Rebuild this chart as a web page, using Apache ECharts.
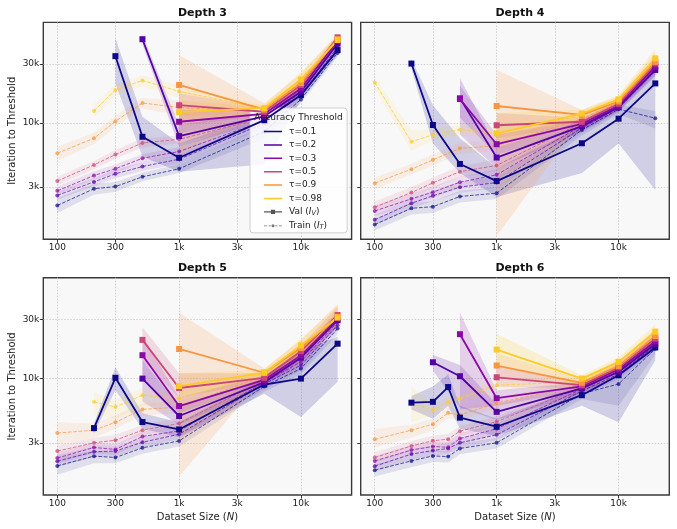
<!DOCTYPE html>
<html><head><meta charset="utf-8">
<script src="https://cdn.jsdelivr.net/npm/echarts@6/dist/echarts.min.js"></script>
<style>html,body{margin:0;padding:0;background:#fff}#c{width:677px;height:529px}</style>
</head><body><div id="c"></div>
<script>
// ---------------- data ----------------
const tauLabels = ['τ=0.1','τ=0.2','τ=0.3','τ=0.5','τ=0.9','τ=0.98'];
const tauColors = ['#0d0887','#5302a3','#8b0aa5','#cc4778','#f89540','#fdca26'];
const depthTitles = ['Depth 3','Depth 4','Depth 5','Depth 6'];
const xTicks = [100,300,1000,3000,10000];
const xTickLabels = ['100','300','1k','3k','10k'];
const yTicks = [3000,10000,30000];
const yTickLabels = ['3k','10k','30k'];

// Depth 3
const N3 = [100,200,300,500,1000,5000,10000,20000];
const val3 = [
 [null,null,34800,7700,5200,10500,16800,39000],
 [null,null,null,47800,7800,11300,17900,44000],
 [null,null,null,null,10200,11800,19000,46500],
 [null,null,null,null,13900,12300,20300,49500],
 [null,null,null,null,20300,12800,21000,48000],
 [null,null,null,null,12200,13200,22500,47000]];
const val3Lo = [
 [null,null,20900,5300,4000,4600,15300,35500],
 [null,null,null,43000,6400,10200,16300,40000],
 [null,null,null,null,8200,10800,17300,43000],
 [null,null,null,null,9500,11300,18500,46000],
 [null,null,null,null,5500,11900,18500,44000],
 [null,null,null,null,10000,12300,19600,44000]];
const val3Hi = [
 [null,null,48400,11200,6800,11900,18500,42800],
 [null,null,null,52000,9600,12400,19600,47000],
 [null,null,null,null,12700,12900,20900,49000],
 [null,null,null,null,17300,13400,22200,52000],
 [null,null,null,null,35500,14400,25200,53000],
 [null,null,null,null,15300,14000,26000,52000]];
const tr3 = [
 [2130,2910,3030,3640,4230,8500,15500,37000],
 [2570,3310,3850,4410,5060,9900,16900,41000],
 [2800,3730,4230,5150,5840,10400,17800,44000],
 [3360,4550,5520,6860,7340,11000,18800,47000],
 [5660,7490,10300,14500,13300,12300,20000,47000],
 [null,12500,18500,22100,18000,13000,21500,47000]];
const tr3Lo = [
 [1850,2600,2750,3350,3900,7500,14500,34500],
 [2370,3050,3550,4050,4650,9100,15700,38000],
 [2580,3450,3900,4750,5400,9600,16500,41000],
 [3100,4200,5100,6300,6800,10200,17500,44000],
 [4900,6700,9300,13000,11500,11500,18500,44000],
 [null,11000,16500,19800,16000,12200,20000,44000]];
const tr3Hi = [
 [2450,3200,3300,3950,4600,9500,16500,39500],
 [2780,3580,4170,4780,5480,10700,18200,44000],
 [3030,4040,4580,5580,6320,11200,19100,47000],
 [3650,4900,6000,7450,7900,11800,20200,50000],
 [6400,8300,11400,16000,15200,13200,21800,50000],
 [null,14100,20500,24400,20200,13900,23200,50000]];

// Depth 4
const N4 = [100,200,300,500,1000,5000,10000,20000];
const val4 = [
 [null,30300,9600,4630,3360,6820,10800,20900],
 [null,null,null,15800,5220,9400,13400,26900],
 [null,null,null,15600,6700,9800,13800,28600],
 [null,null,null,null,9550,10200,14300,30400],
 [null,null,null,null,13700,11600,14900,31300],
 [null,null,null,null,8200,11900,15500,33400]];
const val4Lo = [
 [null,27500,6800,3900,2500,3900,6800,2850],
 [null,null,null,8000,4300,8500,12500,24000],
 [null,null,null,11000,5500,9000,13000,26000],
 [null,null,null,null,7500,9500,13400,27000],
 [null,null,null,null,1200,10500,14000,28000],
 [null,null,null,null,6500,11000,14500,29000]];
const val4Hi = [
 [null,33000,13900,7500,4300,9300,14400,30000],
 [null,null,null,23000,6300,10400,14500,30000],
 [null,null,null,20000,8000,10700,14800,32000],
 [null,null,null,null,12000,11000,15300,34000],
 [null,null,null,null,27000,12700,16300,37000],
 [null,null,null,null,12000,12800,16800,40000]];
const tr4 = [
 [1490,2020,2080,2520,2680,8750,12900,10900],
 [1630,2220,2550,3000,3270,9100,13200,26300],
 [1920,2410,2730,3290,3780,9500,13500,28000],
 [2060,2710,3250,4010,4500,10000,13900,29500],
 [3230,4200,5000,6200,6500,10800,14600,30500],
 [21200,7000,8000,8800,8200,11500,15200,32000]];
const tr4Lo = [
 [1330,1800,1850,2250,2400,7900,11800,9000],
 [1470,2000,2300,2700,2950,8300,12200,24000],
 [1730,2170,2460,2960,3400,8700,12500,25500],
 [1850,2440,2930,3610,4050,9200,12900,27000],
 [2900,3800,4500,5600,5900,10000,13600,28000],
 [19000,5900,7200,8000,7400,10700,14200,29500]];
const tr4Hi = [
 [1650,2250,2300,2800,2980,9600,14000,12500],
 [1800,2450,2820,3330,3630,10000,14300,28800],
 [2130,2680,3030,3650,4200,10400,14600,30500],
 [2290,3010,3600,4450,5000,10900,15000,32000],
 [3600,4650,5550,6900,7200,11700,15700,33000],
 [23500,8700,8900,9700,9100,12400,16300,34500]];

// Depth 5
const N5 = [100,200,300,500,1000,5000,10000,20000];
const val5 = [
 [null,3950,10100,4420,3850,8900,9950,19100],
 [null,null,null,9950,4950,9300,14700,29600],
 [null,null,null,15400,5960,9700,15300,30500],
 [null,null,null,20500,8350,10100,16600,32600],
 [null,null,null,null,17300,11100,17600,31600],
 [null,null,null,null,8650,11100,18500,31100]];
const val5Lo = [
 [null,3600,8000,3900,3350,7500,4850,9400],
 [null,null,null,6500,4200,8700,13500,26000],
 [null,null,null,10000,5200,9000,14000,27000],
 [null,null,null,14000,7000,9500,15000,29000],
 [null,null,null,null,1600,10300,15500,28000],
 [null,null,null,null,7000,10500,16500,28000]];
const val5Hi = [
 [null,4300,12300,5200,4400,10200,16400,21700],
 [null,null,null,14000,5900,10100,16000,34000],
 [null,null,null,22000,7000,10500,17000,35000],
 [null,null,null,26000,11000,11000,18500,38000],
 [null,null,null,null,34000,12000,20500,40000],
 [null,null,null,null,11000,11800,21000,39000]];
const tr5 = [
 [1950,2340,2280,2730,3110,8600,12000,25300],
 [2130,2540,2570,3030,3520,9000,12800,27000],
 [2260,2750,2650,3380,3750,9300,13600,28600],
 [2570,3000,3150,3800,4300,9700,14500,29700],
 [3600,3800,4400,5600,5850,10500,16000,30700],
 [null,6450,5850,7300,6850,10800,16900,30700]];
const tr5Lo = [
 [1650,2050,2050,2450,2800,7800,10800,22800],
 [1900,2300,2320,2750,3200,8200,11600,24500],
 [2030,2480,2400,3050,3400,8500,12400,26000],
 [2300,2720,2850,3450,3900,8900,13200,27000],
 [2900,3300,3900,5000,5200,9600,14500,28000],
 [null,5000,4700,6000,6000,9900,15400,28000]];
const tr5Hi = [
 [2300,2600,2520,3000,3420,9400,13200,27800],
 [2370,2800,2830,3330,3870,9800,14000,29700],
 [2500,3020,2920,3720,4130,10200,14900,31400],
 [2850,3300,3470,4200,4750,10600,15900,32600],
 [4400,4300,5000,6300,6500,11500,17600,33700],
 [null,7700,6700,8400,7700,11800,18500,33700]];

// Depth 6
const N6 = [100,200,300,400,500,1000,5000,10000,20000];
const val6 = [
 [null,6350,6450,8500,4800,4050,7300,10600,17800],
 [null,null,13500,null,10400,5350,8300,11300,19000],
 [null,null,null,null,22800,6900,8600,11800,19900],
 [null,null,null,null,null,10200,8800,12300,21000],
 [null,null,null,null,null,12700,9200,12600,22000],
 [null,null,null,null,null,17100,9950,13600,23900]];
const val6Lo = [
 [null,5600,4700,6000,3900,3400,6000,4400,14000],
 [null,null,11500,null,5800,4600,7600,10500,17000],
 [null,null,null,null,5600,6000,8000,11000,18000],
 [null,null,null,null,null,8500,8300,11500,19000],
 [null,null,null,null,null,10000,8700,11800,20000],
 [null,null,null,null,null,12500,9400,12700,21500]];
const val6Hi = [
 [null,7200,8600,10800,6000,4700,8600,12500,21000],
 [null,null,15500,null,12800,6200,9000,12200,21000],
 [null,null,null,null,34000,8000,9300,12700,22000],
 [null,null,null,null,null,12500,9400,13200,23500],
 [null,null,null,null,null,16000,9800,13500,25000],
 [null,null,null,null,null,23000,10600,14800,27500]];
const tr6 = [
 [1800,2140,2350,2320,2700,3000,7500,9000,17400],
 [1940,2430,2600,2700,3000,3480,7900,10800,18500],
 [2140,2620,2800,2760,3250,3900,8200,11300,19300],
 [2280,2830,3120,3210,3730,4450,8500,11800,20300],
 [3200,3800,4250,5250,5050,6300,8900,12200,21300],
 [null,6250,5500,6400,6850,8800,9400,13000,23000]];
const tr6Lo = [
 [1600,1900,2100,2080,2420,2700,6800,6000,15500],
 [1750,2200,2350,2450,2720,3150,7200,9800,16800],
 [1940,2380,2540,2500,2950,3540,7450,10300,17500],
 [2070,2570,2830,2920,3390,4050,7700,10700,18400],
 [2750,3300,3800,4750,4600,5700,8100,11100,19400],
 [null,4400,5000,5800,6200,8000,8500,11800,21000]];
const tr6Hi = [
 [2000,2360,2590,2550,2970,3300,8200,10200,19100],
 [2130,2670,2860,2970,3300,3830,8700,11900,20400],
 [2350,2880,3080,3040,3580,4290,9000,12400,21200],
 [2510,3110,3430,3530,4100,4900,9400,13000,22300],
 [3900,4200,4700,5800,5550,6900,9800,13400,23400],
 [null,8600,6100,7000,7500,9700,10300,14300,25300]];

// ---------------- build ----------------
const FONT = 'DejaVu Sans';
const L = Math.log10;
const panels = [
  {N:N3, val:val3, vLo:val3Lo, vHi:val3Hi, tr:tr3, tLo:tr3Lo, tHi:tr3Hi},
  {N:N4, val:val4, vLo:val4Lo, vHi:val4Hi, tr:tr4, tLo:tr4Lo, tHi:tr4Hi},
  {N:N5, val:val5, vLo:val5Lo, vHi:val5Hi, tr:tr5, tLo:tr5Lo, tHi:tr5Hi},
  {N:N6, val:val6, vLo:val6Lo, vHi:val6Hi, tr:tr6, tLo:tr6Lo, tHi:tr6Hi}
];
const gridRects = [
  {left:43.3, top:22.4, width:308.3, height:216.8},
  {left:360.7, top:22.4, width:308.6, height:216.8},
  {left:43.3, top:277.7, width:308.3, height:217.3},
  {left:360.7, top:277.7, width:308.6, height:217.3}
];
const XMIN = 1.885, XMAX = 4.416, YMIN = 3.054, YMAX = 4.816;

function fmt(ticks, labels){
  return v => { for (let j=0;j<ticks.length;j++) if (Math.abs(L(ticks[j])-v)<1e-6) return labels[j]; return ''; };
}
function pts(N, arr){
  const out=[]; N.forEach((n,k)=>{ if(arr[k]!=null) out.push([L(n), L(arr[k])]); }); return out;
}
function band(p, N, lo, hi, color, opacity){
  const data=[];
  N.forEach((n,k)=>{ if(lo[k]!=null && hi[k]!=null) data.push([L(n), L(lo[k]), L(hi[k])]); });
  return {
    type:'custom', xAxisIndex:p, yAxisIndex:p, z:1, silent:true, clip:true,
    data, encode:{x:0, y:[1,2]},
    renderItem(params, api){
      if (params.dataIndex!==0) return null;
      const top=[], bot=[];
      data.forEach(d=>{ top.push(api.coord([d[0], d[2]])); bot.push(api.coord([d[0], d[1]])); });
      return {type:'polygon', shape:{points: top.concat(bot.reverse())}, style:{fill:color, opacity:opacity}};
    }
  };
}

const grids=[], xAxes=[], yAxes=[], series=[], titles=[];
panels.forEach((P,p)=>{
  const g = gridRects[p];
  grids.push(Object.assign({show:true, backgroundColor:'#f8f8f8', borderColor:'#3a3a3a', borderWidth:1.4, containLabel:false}, g));
  titles.push({text:depthTitles[p], left:g.left+g.width/2, top:g.top-20, textAlign:'center',
    textStyle:{fontSize:11, fontWeight:'bold', fontFamily:FONT, color:'#111'}});
  const bottomRow = p>=2, leftCol = p%2===0;
  xAxes.push({
    type:'value', gridIndex:p, min:XMIN, max:XMAX,
    axisLine:{show:false},
    axisTick:{show:true, customValues:xTicks.map(L), length:3.5, lineStyle:{color:'#333', width:1}},
    axisLabel:{show:true, customValues:xTicks.map(L), formatter:fmt(xTicks,xTickLabels), fontSize:9, fontFamily:FONT, color:'#222', margin:4},
    splitLine:{show:true, lineStyle:{color:'#c8c8c8', width:0.8, type:[1.5,1.5]}},
    name: bottomRow ? '{a|Dataset Size (}{i|N}{a|)}' : '',
    nameLocation:'middle', nameGap:17,
    nameTextStyle:{rich:{a:{fontSize:10, fontFamily:FONT, color:'#222'}, i:{fontSize:10, fontFamily:FONT, fontStyle:'italic', color:'#222'}}}
  });
  yAxes.push({
    type:'value', gridIndex:p, min:YMIN, max:YMAX,
    axisLine:{show:false},
    axisTick:{show:true, customValues:yTicks.map(L), length:3.5, lineStyle:{color:'#333', width:1}},
    axisLabel:{show:leftCol, customValues:yTicks.map(L), formatter:fmt(yTicks,yTickLabels), fontSize:9, fontFamily:FONT, color:'#222', margin:4},
    splitLine:{show:true, lineStyle:{color:'#c8c8c8', width:0.8, type:[1.5,1.5]}},
    name: leftCol ? 'Iteration to Threshold' : '',
    nameLocation:'middle', nameGap:26,
    nameTextStyle:{fontSize:10, fontFamily:FONT, color:'#222'}
  });
  for (let i=0;i<6;i++){
    const c = tauColors[i];
    series.push(band(p, P.N, P.vLo[i], P.vHi[i], c, 0.17));
    series.push(band(p, P.N, P.tLo[i], P.tHi[i], c, 0.10));
  }
  for (let i=0;i<6;i++){
    const c = tauColors[i];
    series.push({
      type:'line', name:tauLabels[i]+' train', xAxisIndex:p, yAxisIndex:p, data:pts(P.N, P.tr[i]),
      symbol:'circle', symbolSize:4, z:3, silent:true,
      lineStyle:{color:c, width:1, type:[3.7,1.6], opacity:0.7}, itemStyle:{color:c, opacity:0.7}
    });
  }
  for (let i=0;i<6;i++){
    const c = tauColors[i];
    series.push({
      type:'line', name:tauLabels[i], xAxisIndex:p, yAxisIndex:p, data:pts(P.N, P.val[i]),
      symbol:'rect', symbolSize:6, z:4, silent:true, color:c,
      lineStyle:{color:c, width:1.8}, itemStyle:{color:c}
    });
  }
});
// legend keys for line styles
series.push({type:'line', name:'Val (I_V)', xAxisIndex:0, yAxisIndex:0, data:[], color:'#555', symbol:'rect', itemStyle:{color:'#555'}, lineStyle:{color:'#555'}});
series.push({type:'line', name:'Train (I_T)', xAxisIndex:0, yAxisIndex:0, data:[], color:'#777', symbol:'circle', itemStyle:{color:'#777'}, lineStyle:{color:'#777'}});

const barIcon = 'path://M0,0h0.01v0.01h-0.01z M0,3.75h30v2.5h-30z M29.99,9.99h0.01v0.01h-0.01z';
const valIcon = 'path://M0,0h0.01v0.01h-0.01z M0,3.9h30v2.2h-30z M11.5,1.5h7v7h-7z M29.99,9.99h0.01v0.01h-0.01z';
const trainIcon = 'path://M0,0h0.01v0.01h-0.01z M0,4.4h5v1.2h-5z M7.5,4.4h4v1.2h-4z M12.5,5a2.5,2.5 0 1,0 5,0a2.5,2.5 0 1,0 -5,0z M18.5,4.4h4v1.2h-4z M25,4.4h5v1.2h-5z M29.99,9.99h0.01v0.01h-0.01z';

const legendData = tauLabels.map(n=>({name:n, icon:barIcon}))
  .concat([{name:'Val (I_V)', icon:valIcon}, {name:'Train (I_T)', icon:trainIcon}]);

const chart = echarts.init(document.getElementById('c'), null, {renderer:'canvas'});
chart.setOption({
  animation:false,
  textStyle:{fontFamily:FONT},
  title:titles,
  grid:grids, xAxis:xAxes, yAxis:yAxes, series:series,
  legend:{
    orient:'vertical', left:250, top:108, data:legendData, selectedMode:false,
    itemWidth:18, itemHeight:8, itemGap:4.4,
    padding:[19,20,2,14],
    backgroundColor:'rgba(255,255,255,0.85)', borderColor:'#d0d0d0', borderWidth:1, borderRadius:3,
    textStyle:{fontSize:9, fontFamily:FONT, color:'#222', padding:[0,0,0,2],
      rich:{t:{fontSize:9, fontFamily:FONT, color:'#222', lineHeight:10},
            i:{fontSize:9, fontFamily:FONT, fontStyle:'italic', color:'#222', lineHeight:10},
            s:{fontSize:6.5, fontFamily:FONT, fontStyle:'italic', color:'#222', verticalAlign:'bottom', lineHeight:6}}},
    formatter: n => n==='Val (I_V)' ? '{t|Val (}{i|I}{s|V}{t|)}' : n==='Train (I_T)' ? '{t|Train (}{i|I}{s|T}{t|)}' : n
  },
  graphic:[{type:'text', z:100, style:{text:'Accuracy Threshold', x:298.5, y:117.5, align:'center', verticalAlign:'middle', font:'9px "DejaVu Sans"', fill:'#222'}}]
});
</script></body></html>
